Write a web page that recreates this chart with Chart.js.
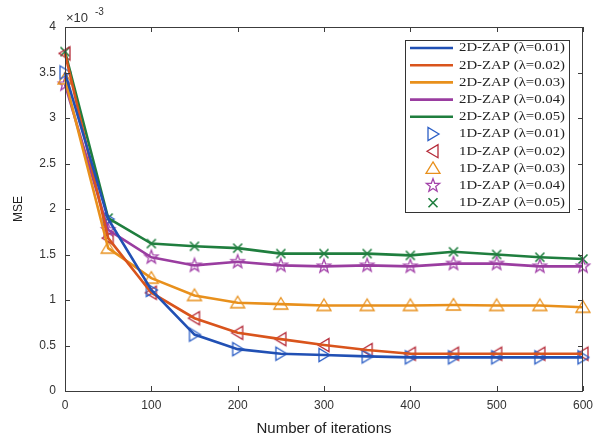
<!DOCTYPE html>
<html>
<head>
<meta charset="utf-8">
<script src="https://cdn.jsdelivr.net/npm/chart.js@4.4.0/dist/chart.umd.min.js"></script>
<style>
  html, body { margin: 0; padding: 0; background: #fff; }
  #wrap { width: 602px; height: 443px; position: relative; }
</style>
</head>
<body>
<div id="wrap"><canvas id="myChart"></canvas></div>
<script>
// iterations on the x axis
const iterations = [0, 50, 100, 150, 200, 250, 300, 350, 400, 450, 500, 550, 600];

// MSE values, in units of 1e-3
const zap_001 = [3.50, 1.89, 1.11, 0.62, 0.46, 0.41, 0.395, 0.38, 0.37, 0.37, 0.37, 0.37, 0.37];
const zap_002 = [3.71, 1.68, 1.08, 0.80, 0.64, 0.57, 0.505, 0.45, 0.41, 0.41, 0.41, 0.41, 0.41];
const zap_003 = [3.43, 1.57, 1.24, 1.05, 0.97, 0.955, 0.94, 0.94, 0.94, 0.945, 0.94, 0.94, 0.92];
const zap_004 = [3.37, 1.77, 1.47, 1.38, 1.42, 1.38, 1.37, 1.38, 1.37, 1.40, 1.40, 1.37, 1.37];
const zap_005 = [3.73, 1.90, 1.62, 1.59, 1.57, 1.51, 1.51, 1.51, 1.49, 1.53, 1.50, 1.47, 1.45];

const labels2D = ['2D-ZAP (λ=0.01)', '2D-ZAP (λ=0.02)', '2D-ZAP (λ=0.03)', '2D-ZAP (λ=0.04)', '2D-ZAP (λ=0.05)'];
const labels1D = ['1D-ZAP (λ=0.01)', '1D-ZAP (λ=0.02)', '1D-ZAP (λ=0.03)', '1D-ZAP (λ=0.04)', '1D-ZAP (λ=0.05)'];

const xTicks = [0, 100, 200, 300, 400, 500, 600];
const yTicks = [0, 0.5, 1, 1.5, 2, 2.5, 3, 3.5, 4];

const lineColors = ['#2150b4', '#d9541c', '#e8901c', '#9a3da0', '#1f7e3e'];
const markerColors = ['#2c5fc6', '#b52a38', '#e8901c', '#a444aa', '#1f7e3e'];
const markerKinds = ['triRight', 'triLeft', 'triUp', 'star', 'cross'];

// draw one marker shape centred at (cx, cy)
function drawMarker(ctx, kind, color, cx, cy) {
  ctx.save();
  ctx.strokeStyle = color;
  ctx.lineWidth = 1.3;
  ctx.lineJoin = 'miter';
  ctx.beginPath();
  if (kind === 'triRight') {
    ctx.moveTo(cx + 6, cy); ctx.lineTo(cx - 5, cy - 6.5); ctx.lineTo(cx - 5, cy + 6.5); ctx.closePath();
  } else if (kind === 'triLeft') {
    ctx.moveTo(cx - 6, cy); ctx.lineTo(cx + 5, cy - 6.5); ctx.lineTo(cx + 5, cy + 6.5); ctx.closePath();
  } else if (kind === 'triUp') {
    ctx.moveTo(cx, cy - 6.5); ctx.lineTo(cx + 7, cy + 5); ctx.lineTo(cx - 7, cy + 5); ctx.closePath();
  } else if (kind === 'star') {
    for (let i = 0; i < 10; i++) {
      const r = i % 2 === 0 ? 7 : 2.9;
      const a = -Math.PI / 2 + i * Math.PI / 5;
      const px = cx + r * Math.cos(a), py = cy + r * Math.sin(a);
      if (i === 0) ctx.moveTo(px, py); else ctx.lineTo(px, py);
    }
    ctx.closePath();
  } else if (kind === 'cross') {
    ctx.lineWidth = 1.6;
    ctx.moveTo(cx - 4.5, cy - 4.5); ctx.lineTo(cx + 4.5, cy + 4.5);
    ctx.moveTo(cx + 4.5, cy - 4.5); ctx.lineTo(cx - 4.5, cy + 4.5);
  }
  ctx.stroke();
  ctx.restore();
}

function markerImage(kind, color) {
  const c = document.createElement('canvas');
  c.width = 20; c.height = 20;
  drawMarker(c.getContext('2d'), kind, color, 10, 10);
  return c;
}

const series = [zap_001, zap_002, zap_003, zap_004, zap_005];
const toPoints = vals => vals.map((v, i) => ({ x: iterations[i], y: v }));

const lineSets = series.map((vals, i) => ({
  label: labels2D[i],
  data: toPoints(vals),
  borderColor: lineColors[i],
  borderWidth: 2.6,
  pointRadius: 0,
  tension: 0,
  clip: false
}));
const markerSets = series.map((vals, i) => ({
  label: labels1D[i],
  data: toPoints(vals),
  showLine: false,
  pointStyle: markerImage(markerKinds[i], markerColors[i]),
  pointRadius: 7,
  borderColor: markerColors[i],
  clip: false
}));

const boxPlugin = {
  id: 'boxAndLegend',
  afterDraw(chart) {
    const { ctx, chartArea: a, scales: { x, y } } = chart;
    ctx.save();
    // axes box
    ctx.strokeStyle = '#3c3c3c';
    ctx.lineWidth = 1;
    ctx.strokeRect(a.left + 0.5, a.top + 0.5, a.right - a.left - 1, a.bottom - a.top);
    // inward ticks
    ctx.beginPath();
    xTicks.forEach(t => {
      const px = Math.round(x.getPixelForValue(t)) + 0.5;
      ctx.moveTo(px, a.bottom); ctx.lineTo(px, a.bottom - 5);
      ctx.moveTo(px, a.top); ctx.lineTo(px, a.top + 5);
    });
    yTicks.forEach(t => {
      const py = Math.round(y.getPixelForValue(t)) + 0.5;
      ctx.moveTo(a.left, py); ctx.lineTo(a.left + 5, py);
      ctx.moveTo(a.right, py); ctx.lineTo(a.right - 5, py);
    });
    ctx.stroke();

    // exponent label
    ctx.fillStyle = '#333';
    ctx.font = '13px "Liberation Sans", Arial, sans-serif';
    ctx.textBaseline = 'alphabetic';
    ctx.fillText('×10', a.left + 1, a.top - 5);
    ctx.font = '10px "Liberation Sans", Arial, sans-serif';
    ctx.fillText('-3', a.left + 30, a.top - 12);

    // legend
    const lx = 405, ly = 40, lw = 164, lh = 172;
    ctx.fillStyle = '#fff';
    ctx.fillRect(lx, ly, lw, lh);
    ctx.strokeStyle = '#333';
    ctx.strokeRect(lx + 0.5, ly + 0.5, lw, lh);
    const allLabels = labels2D.concat(labels1D);
    ctx.font = '13px "Liberation Serif", "Times New Roman", serif';
    ctx.textBaseline = 'middle';
    allLabels.forEach((txt, i) => {
      const ry = 48 + i * 17.2;
      if (i < 5) {
        ctx.strokeStyle = lineColors[i];
        ctx.lineWidth = 2.6;
        ctx.beginPath();
        ctx.moveTo(410, ry); ctx.lineTo(453, ry);
        ctx.stroke();
      } else {
        drawMarker(ctx, markerKinds[i - 5], markerColors[i - 5], 433, ry);
      }
      ctx.save();
      const w = ctx.measureText(txt).width;
      ctx.translate(459, ry);
      ctx.scale(106 / w, 1);
      ctx.fillStyle = '#222';
      ctx.fillText(txt, 0, 0);
      ctx.restore();
    });
    ctx.restore();
  }
};

const tickFont = { family: '"Liberation Sans", Arial, sans-serif', size: 12 };

new Chart(document.getElementById('myChart'), {
  type: 'line',
  data: { datasets: lineSets.concat(markerSets) },
  options: {
    responsive: true,
    maintainAspectRatio: false,
    animation: false,
    layout: { padding: { top: 27, right: 19, left: 0, bottom: 0 } },
    plugins: { legend: { display: false }, tooltip: { enabled: false } },
    scales: {
      x: {
        type: 'linear',
        min: 0, max: 600,
        afterBuildTicks: s => { s.ticks = xTicks.map(v => ({ value: v })); },
        afterFit: s => { s.height = 52; },
        grid: { display: false, drawTicks: false },
        border: { display: false },
        ticks: { font: tickFont, color: '#333', padding: 7, maxRotation: 0 },
        title: {
          display: true, text: 'Number of iterations', color: '#222',
          font: { family: '"Liberation Sans", Arial, sans-serif', size: 15 },
          padding: { top: 0, bottom: 5 }
        }
      },
      y: {
        type: 'linear',
        min: 0, max: 4,
        afterBuildTicks: s => { s.ticks = yTicks.map(v => ({ value: v })); },
        afterFit: s => { s.width = 65; },
        grid: { display: false, drawTicks: false },
        border: { display: false },
        ticks: { font: tickFont, color: '#333', padding: 9, callback: v => String(v) },
        title: {
          display: true, text: 'MSE', color: '#222',
          font: { family: '"Liberation Sans", Arial, sans-serif', size: 12 },
          padding: { top: 11, bottom: 0 }
        }
      }
    }
  },
  plugins: [boxPlugin]
});
</script>
</body>
</html>
